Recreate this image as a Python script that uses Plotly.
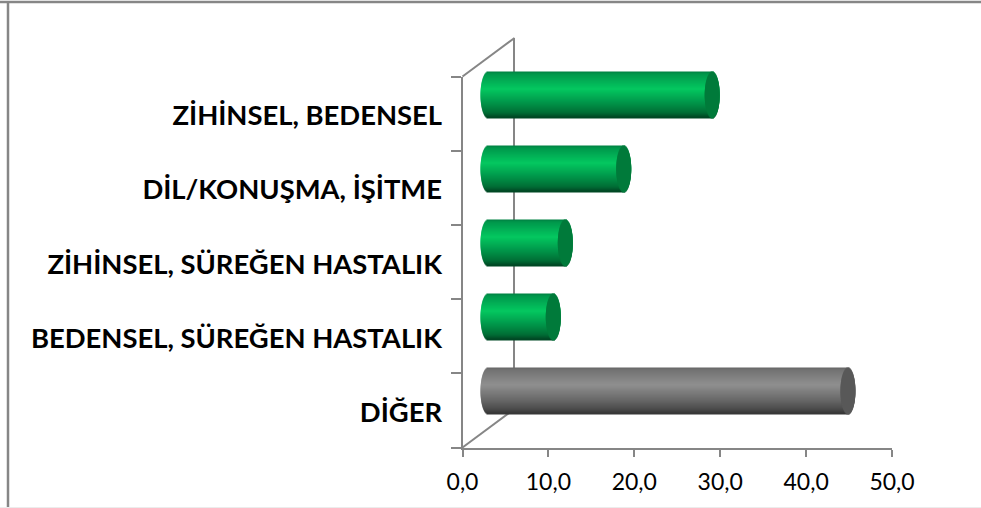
import math
import plotly.graph_objects as go

categories = ["DİĞER", "BEDENSEL, SÜREĞEN HASTALIK", "ZİHİNSEL, SÜREĞEN HASTALIK", "DİL/KONUŞMA, İŞİTME", "ZİHİNSEL, BEDENSEL"]
values = [41.9, 7.6, 9.0, 15.8, 26.1]

W, H = 981, 508
X0, X1 = 462.5, 892.0
Y_TOP, Y_BOT = 76.5, 447.5
XMAX = 50.0
PX = (X1 - X0) / XMAX
BAR_DX, BAR_DY = 25.5, -19.0
WALL_DX, WALL_DY = 52, -38.5
RX = 7.5 / PX
THICK = 46 / ((Y_BOT - Y_TOP) / 5)
AXC = "#868686"
FONT = "Lato, Carlito, Calibri, sans-serif"

GREEN = [(0, (0, 125, 65)), (.05, (0, 150, 75)), (.38, (4, 200, 96)), (.7, (0, 145, 72)), (.9, (0, 108, 52)), (1, (0, 68, 34))]
GRAY = [(0, (100, 100, 100)), (.05, (115, 115, 115)), (.38, (143, 143, 143)), (.7, (105, 105, 105)), (.9, (76, 76, 76)), (1, (52, 52, 52))]
CAP = {"g": "#007a3a", "k": "#595959"}


def ramp(stops, t):
    for (a, ca), (b, cb) in zip(stops, stops[1:]):
        if t <= b:
            f = (t - a) / (b - a)
            return "rgb(%d,%d,%d)" % tuple(round(p + (q - p) * f) for p, q in zip(ca, cb))
    return "rgb(%d,%d,%d)" % stops[-1][1]


def xdom(dx, lo=0.0):
    return [(X0 + dx + lo * PX) / W, (X1 + dx) / W]


def ydom(dy):
    return [1 - (Y_BOT + dy) / H, 1 - (Y_TOP + dy) / H]


fig = go.Figure()
hidden = dict(hoverinfo="skip", showlegend=False, marker=dict(opacity=0))
fig.add_trace(go.Bar(x=values, y=categories, orientation="h", xaxis="x", yaxis="y", **hidden))
LEFT = -4.0
kinds = ["k" if c == "DİĞER" else "g" for c in categories]
N = 46
h = THICK / N
for i in range(N):
    u = (i + .5) / N
    t = 2 * u - 1
    s = math.sqrt(max(0, 1 - t * t))
    off = THICK / 2 - (i + 1) * h
    body = [ramp(GRAY if k == "k" else GREEN, u) for k in kinds]
    fig.add_trace(go.Bar(
        y=categories, x=[v + RX * s + RX * s for v in values], base=[-RX * s] * len(values),
        orientation="h", width=h, offset=off, xaxis="x2", yaxis="y2",
        marker=dict(color=body, line=dict(width=0)), hoverinfo="skip", showlegend=False))
for i in range(N):
    u = (i + .5) / N
    t = 2 * u - 1
    s = math.sqrt(max(0, 1 - t * t))
    off = THICK / 2 - (i + 1) * h
    fig.add_trace(go.Bar(
        y=categories, x=[2 * RX * s] * len(values), base=[v - RX * s for v in values],
        orientation="h", width=h, offset=off, xaxis="x2", yaxis="y2",
        marker=dict(color=[CAP[k] for k in kinds], line=dict(width=0)), hoverinfo="skip", showlegend=False))
fig.add_trace(go.Bar(x=values, y=categories, orientation="h", xaxis="x3", yaxis="y3", **hidden))


def px(x, y):
    return dict(xref="paper", yref="paper", x0=x[0] / W, x1=x[1] / W, y0=1 - y[0] / H, y1=1 - y[1] / H)


shapes = [
    dict(type="line", layer="below", line=dict(color=AXC, width=2), **px((X0, X0 + WALL_DX), (Y_BOT, Y_BOT + WALL_DY))),
    dict(type="line", layer="below", line=dict(color=AXC, width=2), **px((X0, X0 + WALL_DX), (Y_TOP, Y_TOP + WALL_DY))),
    dict(type="line", layer="below", line=dict(color=AXC, width=2.5), **px((0, W), (2, 2))),
    dict(type="line", layer="below", line=dict(color=AXC, width=2.5), **px((8, 8), (1, H))),
    dict(type="line", layer="below", line=dict(color="#ececec", width=1), **px((0, W), (507.5, 507.5))),
]

cat_axis = dict(type="category", categoryorder="array", categoryarray=categories, range=[-.5, 4.5], fixedrange=True)
fig.update_layout(
    width=W, height=H, autosize=False, margin=dict(l=0, r=0, t=0, b=0, pad=0, autoexpand=False),
    paper_bgcolor="white", plot_bgcolor="rgba(0,0,0,0)", barmode="overlay", separators=",.",
    font=dict(family=FONT, color="black"), shapes=shapes, showlegend=False,
    xaxis=dict(domain=xdom(WALL_DX), range=[0, XMAX], anchor="y", visible=False, fixedrange=True),
    yaxis=dict(domain=ydom(WALL_DY), anchor="x", showline=True, linecolor=AXC, linewidth=2, showticklabels=False,
               ticks="", showgrid=False, layer="below traces", **cat_axis),
    xaxis2=dict(domain=xdom(BAR_DX, LEFT), range=[LEFT, XMAX], anchor="y2", visible=False, fixedrange=True),
    yaxis2=dict(domain=ydom(BAR_DY), anchor="x2", visible=False, **cat_axis),
    xaxis3=dict(domain=xdom(0), range=[0, XMAX], anchor="y3", dtick=10, tick0=0, tickformat=".1f", ticks="outside",
                ticklen=7, tickwidth=2, tickcolor=AXC, showline=True, linecolor=AXC, linewidth=2, showgrid=False,
                zeroline=False, ticklabelstandoff=6, tickfont=dict(size=23, family=FONT), fixedrange=True),
    yaxis3=dict(domain=ydom(0), anchor="x3", ticks="outside", tickson="boundaries", ticklen=10, tickwidth=2,
                tickcolor=AXC, showline=True, linecolor=AXC, linewidth=2, showgrid=False, ticklabelstandoff=13,
                ticklabelshift=2, tickfont=dict(size=27.4, family=FONT, weight="bold"), **cat_axis),
)
fig.write_html("out.html", post_script="document.body.style.margin='0';", config=dict(displayModeBar=False))
